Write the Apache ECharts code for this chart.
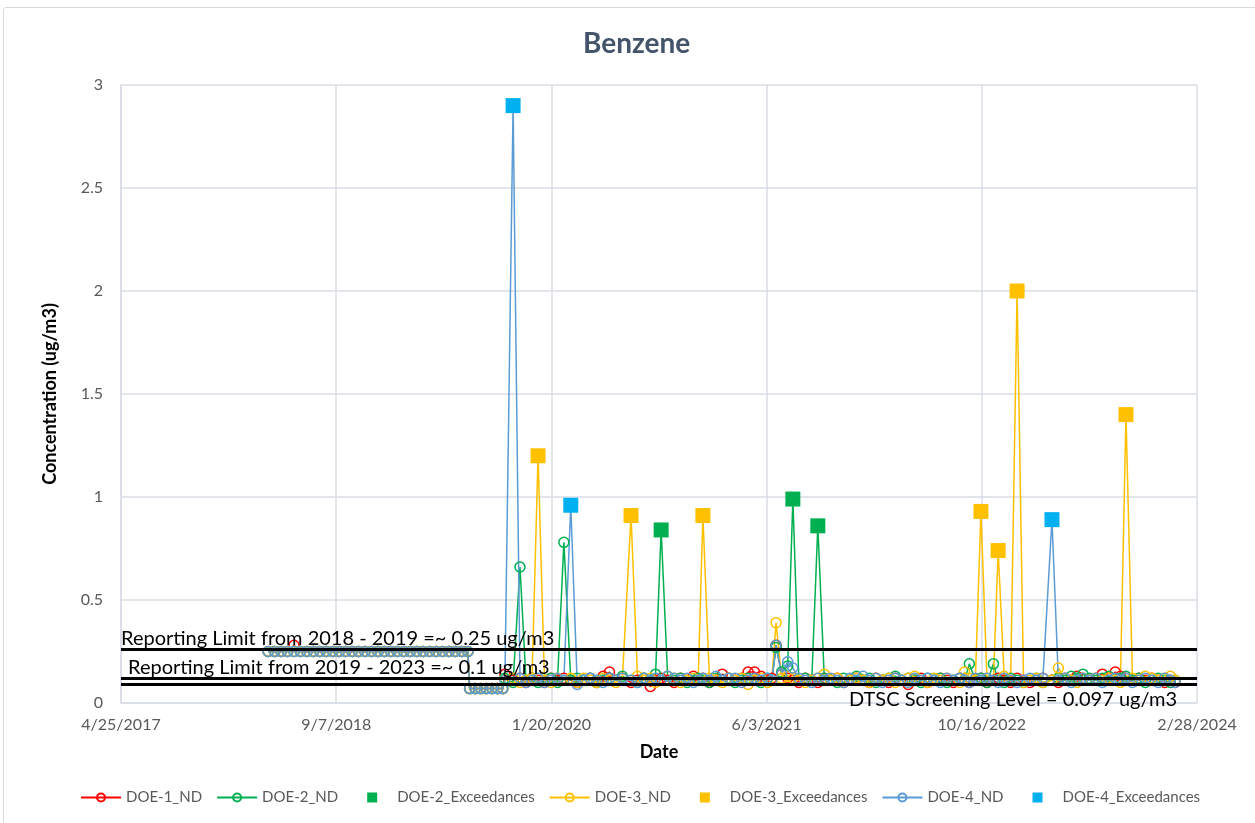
<!DOCTYPE html>
<html>
<head>
<meta charset="utf-8">
<script src="https://cdn.jsdelivr.net/npm/echarts@6/dist/echarts.min.js"></script>
<style>
  html, body { margin: 0; padding: 0; background: #fff; }
  .frame { position: absolute; left: 3px; top: 7px; width: 1300px; height: 900px; border: 1px solid #d9d9d9; border-radius: 3px; }
  #chart { position: absolute; left: 0; top: 0; width: 1255px; height: 823px; }
</style>
</head>
<body>
<div class="frame"></div>
<div id="chart"></div>
<script>
// Excel serial of the first axis date (4/25/2017); x values are days after it
var BASE_SERIAL = 42850;
var xTicks = ["4/25/2017", "9/7/2018", "1/20/2020", "6/3/2021", "10/16/2022", "2/28/2024"];

// sample dates (Excel serials)
var sampleDates = [
  43192, 43207, 43222, 43237, 43252, 43267, 43282, 43297, 43312, 43327, 43342, 43357,
  43372, 43387, 43402, 43417, 43432, 43447, 43462, 43477, 43492, 43507, 43522, 43537,
  43552, 43567, 43582, 43597, 43612, 43627, 43642, 43656,
  43660, 43673, 43686, 43699, 43712, 43725, 43737,
  43742, 43761, 43777, 43791, 43805, 43819, 43834, 43849, 43864, 43879, 43895, 43910,
  43925, 43940, 43955, 43970, 43985, 44000, 44015, 44035, 44050, 44065, 44080, 44092,
  44105, 44120, 44135, 44150, 44165, 44180, 44191, 44202, 44217, 44232, 44247, 44262,
  44277, 44292, 44307, 44322, 44337, 44352, 44362, 44372, 44385, 44399, 44411, 44425,
  44440, 44455, 44469, 44484, 44499, 44514, 44529, 44544, 44559, 44574, 44589, 44604,
  44619, 44634, 44649, 44664, 44679, 44694, 44709, 44724, 44739, 44754, 44769, 44784,
  44799, 44810, 44821, 44835, 44848, 44862, 44877, 44888, 44902, 44917, 44932, 44947,
  44962, 44977, 44992, 45013, 45028, 45043, 45058, 45071, 45085, 45100, 45115, 45130,
  45145, 45160, 45172, 45185, 45200, 45215, 45230, 45245, 45260, 45275, 45288, 45299
];

var doe1 = [
  0.25, 0.25, 0.25, 0.25, 0.28, 0.25, 0.25, 0.25, 0.25, 0.25, 0.25, 0.25,
  0.25, 0.25, 0.25, 0.25, 0.25, 0.25, 0.25, 0.25, 0.25, 0.25, 0.25, 0.25,
  0.25, 0.25, 0.25, 0.25, 0.25, 0.25, 0.25, 0.25,
  0.07, 0.07, 0.07, 0.07, 0.07, 0.07, 0.07,
  0.14, 0.11, 0.12, 0.1, 0.12, 0.11, 0.1, 0.12, 0.11, 0.12, 0.11, 0.1,
  0.11, 0.12, 0.1, 0.13, 0.15, 0.11, 0.12, 0.1, 0.11, 0.12, 0.08, 0.11,
  0.12, 0.11, 0.1, 0.12, 0.11, 0.13, 0.11, 0.12, 0.1, 0.11, 0.14, 0.12,
  0.11, 0.12, 0.15, 0.15, 0.13, 0.11, 0.12, 0.28, 0.14, 0.12, 0.11, 0.1,
  0.12, 0.11, 0.1, 0.12, 0.11, 0.12, 0.1, 0.11, 0.12, 0.11, 0.1, 0.12,
  0.11, 0.1, 0.12, 0.11, 0.09, 0.11, 0.12, 0.1, 0.11, 0.12, 0.11, 0.1,
  0.12, 0.11, 0.1, 0.11, 0.12, 0.1, 0.11, 0.12, 0.11, 0.1, 0.12, 0.11,
  0.1, 0.11, 0.12, 0.11, 0.1, 0.12, 0.11, 0.13, 0.12, 0.11, 0.12, 0.14,
  0.12, 0.15, 0.13, 0.12, 0.11, 0.12, 0.11, 0.12, 0.11, 0.1, 0.11, 0.1
];
var doe2 = [
  0.25, 0.25, 0.25, 0.25, 0.25, 0.25, 0.25, 0.25, 0.25, 0.25, 0.25, 0.25,
  0.25, 0.25, 0.25, 0.25, 0.25, 0.25, 0.25, 0.25, 0.25, 0.25, 0.25, 0.25,
  0.25, 0.25, 0.25, 0.25, 0.25, 0.25, 0.25, 0.25,
  0.07, 0.07, 0.07, 0.07, 0.07, 0.07, 0.07,
  0.12, 0.1, 0.66, 0.11, 0.12, 0.1, 0.11, 0.12, 0.1, 0.78, 0.11, 0.12,
  0.11, 0.12, 0.1, 0.11, 0.12, 0.11, 0.13, 0.11, 0.1, 0.12, 0.11, 0.14,
  0.84, 0.13, 0.11, 0.12, 0.1, 0.11, 0.12, 0.11, 0.1, 0.12, 0.11, 0.12,
  0.1, 0.11, 0.12, 0.11, 0.1, 0.12, 0.11, 0.27, 0.15, 0.18, 0.99, 0.11,
  0.12, 0.11, 0.86, 0.12, 0.11, 0.1, 0.12, 0.11, 0.13, 0.11, 0.12, 0.1,
  0.11, 0.12, 0.13, 0.11, 0.12, 0.11, 0.1, 0.12, 0.11, 0.12, 0.1, 0.11,
  0.12, 0.11, 0.19, 0.11, 0.12, 0.1, 0.19, 0.11, 0.1, 0.12, 0.11, 0.1,
  0.11, 0.12, 0.1, 0.11, 0.12, 0.11, 0.13, 0.12, 0.14, 0.12, 0.11, 0.12,
  0.13, 0.11, 0.12, 0.13, 0.11, 0.12, 0.1, 0.11, 0.12, 0.11, 0.1, 0.11
];
var doe3 = [
  0.25, 0.25, 0.25, 0.25, 0.25, 0.25, 0.25, 0.25, 0.25, 0.25, 0.25, 0.25,
  0.25, 0.25, 0.25, 0.25, 0.25, 0.25, 0.25, 0.25, 0.25, 0.25, 0.25, 0.25,
  0.25, 0.25, 0.25, 0.25, 0.25, 0.25, 0.25, 0.25,
  0.07, 0.07, 0.07, 0.07, 0.07, 0.07, 0.07,
  0.11, 0.12, 0.1, 0.11, 0.12, 1.2, 0.11, 0.1, 0.12, 0.11, 0.12, 0.1,
  0.12, 0.11, 0.1, 0.12, 0.11, 0.1, 0.12, 0.91, 0.13, 0.11, 0.12, 0.1,
  0.11, 0.13, 0.12, 0.1, 0.11, 0.12, 0.11, 0.91, 0.12, 0.11, 0.1, 0.12,
  0.11, 0.12, 0.09, 0.11, 0.12, 0.1, 0.11, 0.39, 0.12, 0.13, 0.12, 0.11,
  0.1, 0.11, 0.12, 0.14, 0.11, 0.12, 0.1, 0.11, 0.12, 0.11, 0.1, 0.12,
  0.11, 0.12, 0.1, 0.11, 0.12, 0.13, 0.11, 0.1, 0.12, 0.11, 0.12, 0.11,
  0.1, 0.15, 0.12, 0.11, 0.93, 0.12, 0.11, 0.74, 0.13, 0.11, 2.0, 0.1,
  0.11, 0.12, 0.1, 0.11, 0.17, 0.12, 0.11, 0.1, 0.12, 0.11, 0.12, 0.11,
  0.12, 0.11, 0.1, 1.4, 0.12, 0.11, 0.13, 0.12, 0.11, 0.12, 0.13, 0.11
];
var doe4 = [
  0.25, 0.25, 0.25, 0.25, 0.25, 0.25, 0.25, 0.25, 0.25, 0.25, 0.25, 0.25,
  0.25, 0.25, 0.25, 0.25, 0.25, 0.25, 0.25, 0.25, 0.25, 0.25, 0.25, 0.25,
  0.25, 0.25, 0.25, 0.25, 0.25, 0.25, 0.25, 0.25,
  0.07, 0.07, 0.07, 0.07, 0.07, 0.07, 0.07,
  0.11, 2.9, 0.12, 0.1, 0.11, 0.12, 0.1, 0.11, 0.12, 0.11, 0.96, 0.09,
  0.11, 0.12, 0.11, 0.1, 0.12, 0.11, 0.12, 0.11, 0.1, 0.12, 0.11, 0.12,
  0.11, 0.13, 0.12, 0.11, 0.12, 0.1, 0.11, 0.12, 0.11, 0.13, 0.11, 0.12,
  0.12, 0.1, 0.11, 0.12, 0.11, 0.12, 0.11, 0.28, 0.14, 0.2, 0.17, 0.12,
  0.11, 0.1, 0.12, 0.11, 0.12, 0.11, 0.1, 0.12, 0.11, 0.13, 0.11, 0.12,
  0.1, 0.11, 0.12, 0.11, 0.1, 0.12, 0.11, 0.12, 0.11, 0.1, 0.12, 0.11,
  0.12, 0.11, 0.1, 0.12, 0.11, 0.12, 0.11, 0.1, 0.12, 0.11, 0.1, 0.11,
  0.12, 0.11, 0.12, 0.89, 0.11, 0.12, 0.1, 0.11, 0.12, 0.11, 0.12, 0.1,
  0.11, 0.12, 0.11, 0.12, 0.1, 0.11, 0.12, 0.11, 0.1, 0.12, 0.11, 0.1
];

// exceedances: [Excel serial, ug/m3]
var doe2Exceed = [[44105, 0.84], [44411, 0.99], [44469, 0.86]];
var doe3Exceed = [[43819, 1.2], [44035, 0.91], [44202, 0.91], [44848, 0.93], [44888, 0.74], [44932, 2.0], [45185, 1.4]];
var doe4Exceed = [[43761, 2.9], [43895, 0.96], [45013, 0.89]];

var limits = [
  { value: 0.257, text: "Reporting Limit from 2018 - 2019 =~ 0.25 ug/m3", pos: "insideStartTop", dist: [0, 1] },
  { value: 0.121, text: "Reporting Limit from 2019 - 2023 =~ 0.1 ug/m3", pos: "insideStartTop", dist: [7, 1] },
  { value: 0.09, text: "DTSC Screening Level = 0.097 ug/m3", pos: "insideEndBottom", dist: [20, 5] }
];

var FONT = "Lato";

function pairs(vals) {
  var out = [];
  for (var i = 0; i < vals.length; i++) out.push([sampleDates[i] - BASE_SERIAL, vals[i]]);
  return out;
}
function shift(list) {
  return list.map(function (p) { return [p[0] - BASE_SERIAL, p[1]]; });
}

function ndSeries(name, color, vals) {
  return {
    name: name,
    type: "line",
    data: pairs(vals),
    symbol: "circle",
    symbolSize: 10,
    showAllSymbol: true,
    lineStyle: { color: color, width: 1.5 },
    itemStyle: { color: "rgba(255,255,255,0)", borderColor: color, borderWidth: 1.5 }
  };
}
function exSeries(name, color, list) {
  return {
    name: name,
    type: "scatter",
    data: shift(list),
    symbol: "rect",
    symbolSize: 15,
    itemStyle: { color: color, opacity: 1 },
    z: 4
  };
}

var SQUARE = "path://M0,0M40,10M15,0h10v10h-10z";

var chart = echarts.init(document.getElementById("chart"));
chart.setOption({
  animation: false,
  backgroundColor: "transparent",
  title: {
    text: "Benzene",
    left: 578,
    top: 25,
    textStyle: { color: "#44546A", fontSize: 28, fontWeight: "bold", fontFamily: FONT }
  },
  legend: {
    left: 80,
    top: 790,
    padding: 0,
    itemWidth: 40,
    itemHeight: 10,
    itemGap: 14,
    textStyle: { color: "#595959", fontSize: 15, fontFamily: FONT },
    data: [
      "DOE-1_ND", "DOE-2_ND",
      { name: "DOE-2_Exceedances", icon: SQUARE },
      "DOE-3_ND",
      { name: "DOE-3_Exceedances", icon: SQUARE },
      "DOE-4_ND",
      { name: "DOE-4_Exceedances", icon: SQUARE }
    ]
  },
  grid: { left: 121, right: 58, top: 85, bottom: 120, containLabel: false },
  xAxis: {
    type: "value",
    min: 0,
    max: 2500,
    interval: 500,
    name: "Date",
    nameLocation: "middle",
    nameGap: 40,
    nameTextStyle: { color: "#000", fontSize: 18, fontWeight: "bold", fontFamily: FONT },
    axisLine: { lineStyle: { color: "#d9dde6", width: 1.5 } },
    axisTick: { show: false },
    splitLine: { show: true, lineStyle: { color: "#d9dde6", width: 1.5 } },
    axisLabel: {
      color: "#595959", fontSize: 16, fontFamily: FONT, margin: 14,
      formatter: function (v) { return xTicks[Math.round(v / 500)]; }
    }
  },
  yAxis: {
    type: "value",
    min: 0,
    max: 3,
    interval: 0.5,
    name: "Concentration (ug/m3)",
    nameLocation: "middle",
    nameGap: 62,
    nameTextStyle: { color: "#000", fontSize: 18, fontWeight: "bold", fontFamily: FONT },
    axisLine: { show: true, lineStyle: { color: "#d9dde6", width: 1.5 } },
    axisTick: { show: false },
    splitLine: { lineStyle: { color: "#d9dde6", width: 1.5 } },
    axisLabel: { color: "#595959", fontSize: 16, fontFamily: FONT, margin: 18 }
  },
  series: [
    ndSeries("DOE-1_ND", "#FF0000", doe1),
    ndSeries("DOE-2_ND", "#00B050", doe2),
    exSeries("DOE-2_Exceedances", "#00B050", doe2Exceed),
    ndSeries("DOE-3_ND", "#FFC000", doe3),
    exSeries("DOE-3_Exceedances", "#FFC000", doe3Exceed),
    ndSeries("DOE-4_ND", "#5B9BD5", doe4),
    exSeries("DOE-4_Exceedances", "#00B0F0", doe4Exceed),
    {
      name: "limits",
      type: "line",
      data: [],
      z: 10,
      markLine: {
        silent: true,
        symbol: "none",
        lineStyle: { color: "#000", width: 3, type: "solid" },
        data: limits.map(function (l) {
          return {
            yAxis: l.value,
            label: {
              show: true, position: l.pos, formatter: l.text,
              color: "#000", fontSize: 20, fontFamily: FONT, distance: l.dist
            }
          };
        })
      }
    }
  ]
});
</script>
</body>
</html>
